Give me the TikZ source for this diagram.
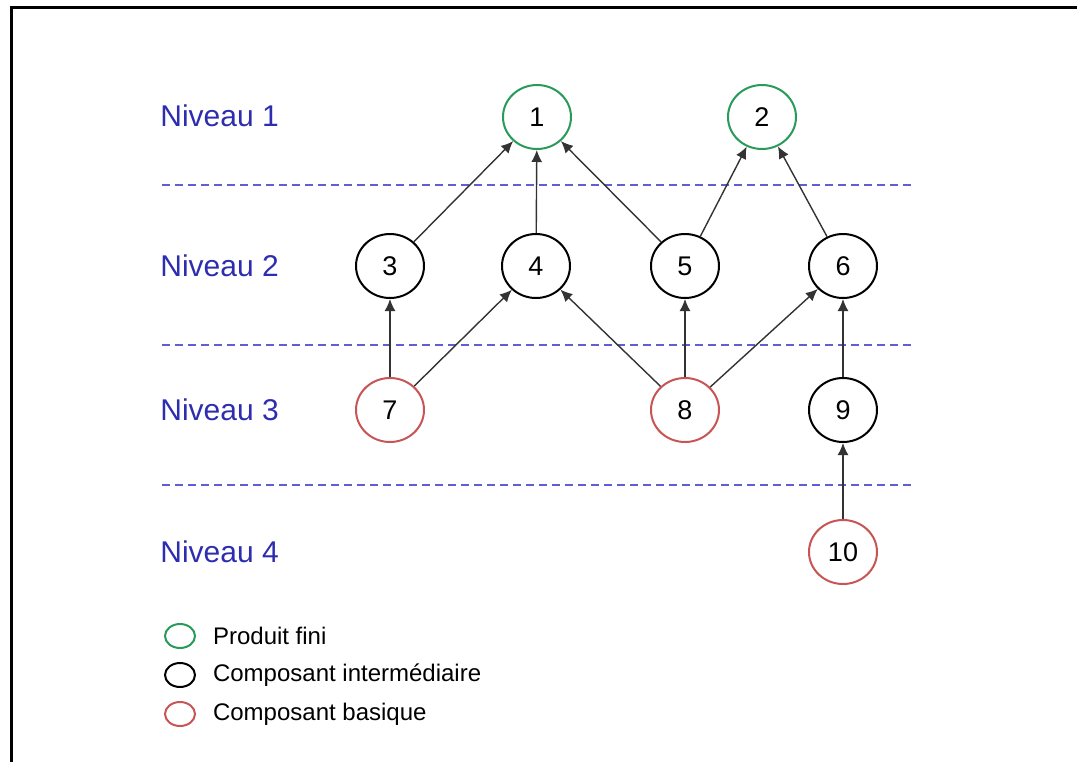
\documentclass[tikz,border=0pt]{standalone}
\usepackage{fontspec}
\setmainfont{Liberation Sans}
\usetikzlibrary{positioning, arrows.meta, shapes.geometric}
\definecolor{nivblue}{RGB}{45, 45, 175}
\definecolor{sepblue}{RGB}{95, 95, 210}
\definecolor{finigreen}{RGB}{40, 155, 90}
\definecolor{basired}{RGB}{200, 85, 85}

\begin{document}
\begin{tikzpicture}[x=0.5pt, y=-0.5pt,
    comp/.style={draw, ellipse, line width=1pt, minimum width=34pt, minimum height=32pt, inner sep=0pt, font=\fontsize{13.5}{15}\selectfont},
    fini/.style={comp, draw=finigreen},
    inter/.style={comp, draw=black},
    basique/.style={comp, draw=basired},
    niveau/.style={anchor=west, inner sep=0pt, text=nivblue, font=\fontsize{15}{18}\selectfont},
    lien/.style={-{Latex[length=6pt, width=5.5pt]}, draw=black!80, line width=0.7pt},
    sep/.style={sepblue, line width=0.6pt, dash pattern=on 4pt off 2.5pt},
    legende/.style={draw, ellipse, line width=1pt, minimum width=15pt, minimum height=12pt, inner sep=0pt},
    legtext/.style={right=5pt of #1, font=\fontsize{12}{14}\selectfont}]
    \useasboundingbox (0,0) rectangle (1077,762);
    \draw[line width=1.5pt] (11,762) -- (11,7) -- (1077,7);

    % niveaux
    \node[niveau] (n1) at (160,116) {Niveau 1};
    \node[niveau] (n2) at (160,266) {Niveau 2};
    \node[niveau] (n3) at (160,410) {Niveau 3};
    \node[niveau] (n4) at (160,552) {Niveau 4};

    \draw[sep] (162,185) -- (912,185);
    \draw[sep] (162,345) -- (912,345);
    \draw[sep] (162,485) -- (912,485);

    % composants
    \node[fini] (c1) at (537,117) {1};
    \node[fini] (c2) at (762,117) {2};
    \node[inter] (c3) at (390,266) {3};
    \node[inter] (c4) at (536,266) {4};
    \node[inter] (c5) at (685,266) {5};
    \node[inter] (c6) at (843,266) {6};
    \node[basique] (c7) at (390,410) {7};
    \node[basique] (c8) at (685,410) {8};
    \node[inter] (c9) at (843,410) {9};
    \node[basique] (c10) at (843,552) {10};

    \draw[lien] (c3) -- (c1);
    \draw[lien] (c4) -- (c1);
    \draw[lien] (c5) -- (c1);
    \draw[lien] (c5) -- (c2);
    \draw[lien] (c6) -- (c2);
    \draw[lien] (c7) -- (c3);
    \draw[lien] (c7) -- (c4);
    \draw[lien] (c8) -- (c4);
    \draw[lien] (c8) -- (c5);
    \draw[lien] (c8) -- (c6);
    \draw[lien] (c9) -- (c6);
    \draw[lien] (c10) -- (c9);

    % legende
    \node[legende, draw=finigreen] (lg1) at (180,636) {};
    \node[legende, draw=black] (lg2) at (180,675) {};
    \node[legende, draw=basired] (lg3) at (180,714) {};
    \node[legtext=lg1] (t1) {Produit fini};
    \node[legtext=lg2] (t2) {Composant intermédiaire};
    \node[legtext=lg3] (t3) {Composant basique};
  \end{tikzpicture}
\end{document}
